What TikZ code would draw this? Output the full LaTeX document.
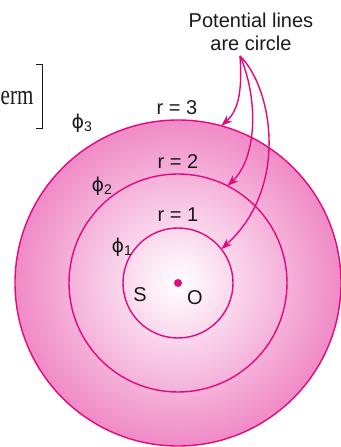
\documentclass[tikz,border=0pt]{standalone}
\usepackage{fontspec}
\usepackage{graphicx}
\setsansfont{Liberation Sans}
\newfontfamily\serifterm{Liberation Serif}
\newfontfamily\phifont{DejaVu Sans}
\usepackage{xcolor}
\definecolor{magline}{HTML}{E4087F}
\definecolor{potpink}{HTML}{F08AC7}
\definecolor{txt}{HTML}{1A1A1A}
\usepackage{tikz}
\usetikzlibrary{arrows.meta,calc}

\newcommand{\potphi}[1]{{\phifont\fontsize{19}{22}\selectfont ϕ}\textsubscript{#1}}

\begin{document}
\begin{tikzpicture}[x=1pt, y=1pt,
    label/.style={font=\sffamily\fontsize{20}{23}\selectfont, text=txt, inner sep=0pt},
    potline/.style={draw=magline, line width=1.4pt},
    pointer/.style={magline, line width=1.4pt, -{Stealth[length=11pt, width=8pt]}}]
  \useasboundingbox (0,0) rectangle (340,447);

  % Shaded field and the three potential circles
  \coordinate (O) at (178,164);
  \fill[inner color=white, outer color=potpink] (O) circle (163);
  \draw[potline] (O) circle (163);
  \draw[potline] (O) circle (109);
  \draw[potline] (O) circle (55);
  \fill[magline] (O) circle (4);

  % Labels
  \node[label] (r3) at (177,339) {r = 3};
  \node[label] (r2) at (178,285) {r = 2};
  \node[label] (r1) at (178,232) {r = 1};
  \node[label] (phi3) at (82,324) {\potphi{3}};
  \node[label] (phi2) at (102,261) {\potphi{2}};
  \node[label] (phi1) at (122,200) {\potphi{1}};
  \node[label] (S) at (140,152) {S};
  \node[label] (Olab) at (195,149) {O};
  \node[label, align=center] (note) at (251,415) {Potential lines\\are circle};

  % Left-over text of the bracket
  \node[font=\serifterm\fontsize{28}{30}\selectfont, text=txt, inner sep=0pt, anchor=base west]
    (term) at (0.5,342) {\scalebox{0.75}[1]{erm}};
  \draw[txt, line width=1pt] (36,382) -- (42,382) -- (42,318) -- (36,318);

  % Pointers from the note onto the circles
  \coordinate (src) at (240,391);
  \coordinate (e3) at ($(O)+(74.6:163)$);
  \coordinate (e2) at ($(O)+(63:109)$);
  \coordinate (e1) at ($(O)+(38:55)$);
  \draw[pointer] (src) .. controls (242,360) and (240,338) .. (e3);
  \draw[pointer] (src) .. controls (258,350) and (258,290) .. (e2);
  \draw[pointer] (src) .. controls (272,360) and (290,260) .. (e1);

\end{tikzpicture}
\end{document}
